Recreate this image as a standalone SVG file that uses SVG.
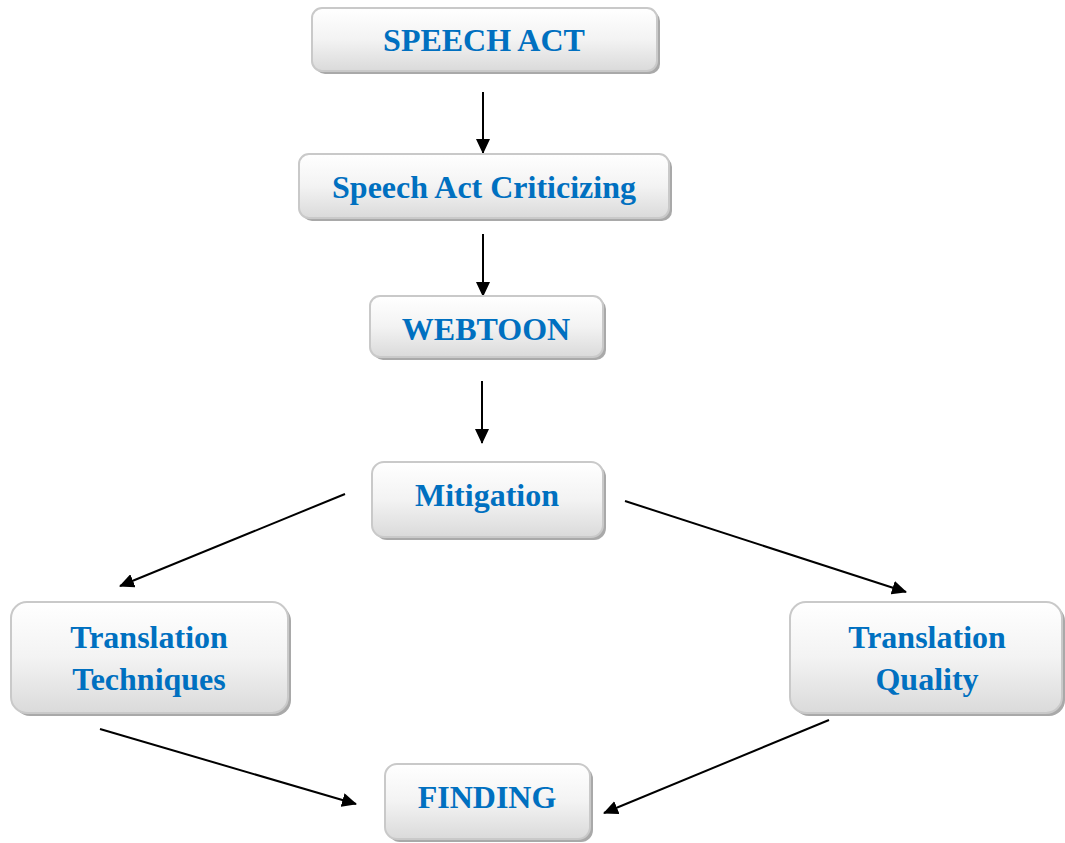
<svg xmlns="http://www.w3.org/2000/svg" width="1065" height="843" viewBox="0 0 1065 843">
<defs>
<linearGradient id="g" x1="0" y1="0" x2="0" y2="1">
<stop offset="0" stop-color="#ffffff"/>
<stop offset="0.5" stop-color="#f3f3f3"/>
<stop offset="1" stop-color="#dadada"/>
</linearGradient>
<marker id="ah" viewBox="0 0 15 14" refX="14" refY="7" markerWidth="7.5" markerHeight="7" markerUnits="strokeWidth" orient="auto">
<path d="M0,0 L15,7 L0,14 z" fill="#000"/>
</marker>
</defs>
<style>
.sh{fill:#a9a9a9}
.bx{fill:url(#g);stroke:#c9c9c9;stroke-width:2}
.t{font-family:"Liberation Serif","Times New Roman",serif;font-weight:bold;font-size:32px;fill:#0070c0;text-anchor:middle}
.c{stroke:#000;stroke-width:2;fill:none;marker-end:url(#ah)}
</style>
<rect width="1065" height="843" fill="#fff"/>
<g id="connectors">
<line class="c" x1="483" y1="92" x2="483" y2="153"/>
<line class="c" x1="483" y1="234" x2="483" y2="296"/>
<line class="c" x1="482" y1="381" x2="482" y2="443"/>
<line class="c" x1="345" y1="494" x2="120" y2="586"/>
<line class="c" x1="625" y1="501" x2="906" y2="592"/>
<line class="c" x1="100" y1="729" x2="356" y2="804"/>
<line class="c" x1="829" y1="720" x2="604" y2="813"/>
</g>
<g id="speech-act">
<rect class="sh" x="315" y="11" width="345" height="63" rx="10"/>
<rect class="bx" x="312" y="8" width="345" height="63" rx="10"/>
<text class="t" x="484" y="51">SPEECH ACT</text>
</g>
<g id="speech-act-criticizing">
<rect class="sh" x="302" y="157" width="370" height="64" rx="10"/>
<rect class="bx" x="299" y="154" width="370" height="64" rx="10"/>
<text class="t" x="484" y="198">Speech Act Criticizing</text>
</g>
<g id="webtoon">
<rect class="sh" x="373" y="299" width="233" height="61" rx="10"/>
<rect class="bx" x="370" y="296" width="233" height="61" rx="10"/>
<text class="t" x="486" y="340">WEBTOON</text>
</g>
<g id="mitigation">
<rect class="sh" x="375" y="465" width="231" height="75" rx="12"/>
<rect class="bx" x="372" y="462" width="231" height="75" rx="12"/>
<text class="t" x="487" y="506">Mitigation</text>
</g>
<g id="translation-techniques">
<rect class="sh" x="14" y="605" width="277" height="111" rx="16"/>
<rect class="bx" x="11" y="602" width="277" height="111" rx="16"/>
<text class="t" x="149" y="648">Translation</text>
<text class="t" x="149" y="690">Techniques</text>
</g>
<g id="translation-quality">
<rect class="sh" x="793" y="605" width="272" height="111" rx="16"/>
<rect class="bx" x="790" y="602" width="272" height="111" rx="16"/>
<text class="t" x="927" y="648">Translation</text>
<text class="t" x="927" y="690">Quality</text>
</g>
<g id="finding">
<rect class="sh" x="388" y="767" width="205" height="75" rx="12"/>
<rect class="bx" x="385" y="764" width="205" height="75" rx="12"/>
<text class="t" x="487" y="808">FINDING</text>
</g>
</svg>
